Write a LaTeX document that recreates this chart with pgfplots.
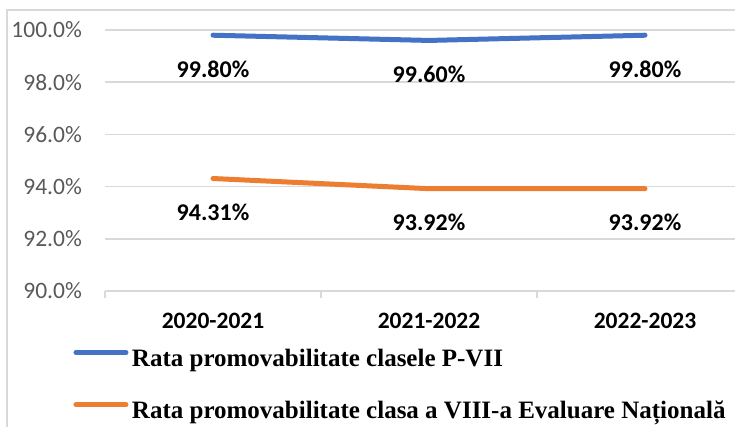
\documentclass[border=0pt]{standalone}
\usepackage{fontspec}
\setmainfont{Carlito}
\newfontfamily\legendfont{Liberation Serif}
\usepackage{pgfplots}
\pgfplotsset{compat=1.18}
\definecolor{gridgray}{HTML}{D9D9D9}
\definecolor{ticktext}{HTML}{595959}
\definecolor{xlblue}{HTML}{4472C4}
\definecolor{xlorange}{HTML}{ED7D31}
\begin{document}
\begin{tikzpicture}[x=1pt,y=1pt]
\useasboundingbox (0,0) rectangle (735,426);
\draw[gridgray, line width=1.3pt] (7,-10) -- (7,416) -- (745,416);
\begin{axis}[
  at={(105pt,135pt)}, anchor=south west,
  scale only axis, width=648pt, height=261pt,
  xmin=-0.5, xmax=2.5, ymin=90, ymax=100,
  clip=false,
  /pgf/number format/assume math mode=true,
  separate axis lines,
  axis x line*=bottom, axis y line*=left,
  x axis line style={draw=gridgray, line width=1.5pt},
  y axis line style={draw=none},
  xtick={0,1,2}, xticklabels={2020-2021,2021-2022,2022-2023},
  minor xtick={-0.5,0.5,1.5,2.5},
  ytick={90,92,94,96,98,100},
  major tick length=0pt, minor tick length=7pt, tick align=outside,
  every major tick/.append style={draw=none},
  every minor tick/.append style={draw=gridgray, line width=1.5pt},
  ymajorgrids, grid style={draw=gridgray, line width=1.5pt},
  yticklabel={\pgfmathprintnumber[fixed,fixed zerofill,precision=1]{\tick}\%},
  yticklabel style={anchor=east, inner sep=0pt, xshift=-23pt, text=ticktext, font=\fontsize{23.5}{28}\selectfont},
  xticklabel style={anchor=base, inner sep=0pt, yshift=-37.5pt, text=black, font=\bfseries\fontsize{23.5}{28}\selectfont},
  nodes near coords={\pgfmathprintnumber[fixed,fixed zerofill,precision=2]{\pgfplotspointmeta}\%},
  every node near coord/.append style={anchor=base, yshift=-42pt, inner sep=0pt, text=black, font=\bfseries\fontsize{24}{28}\selectfont},
  legend image code/.code={\draw[#1, line cap=round] (2.5pt,8.25pt) -- (52.5pt,8.25pt); \path (0pt,8.25pt) (55pt,8.25pt);},
  legend style={at={(-0.05247,-0.2261)}, anchor=north west, draw=none, fill=none, inner sep=0pt, outer sep=0pt,
    font=\legendfont\bfseries\fontsize{25}{29}\selectfont,
    nodes={inner sep=0pt, text height=16pt, text depth=5pt},
    row sep=31pt,
    /tikz/every odd column/.append style={column sep=1pt}},
  legend cell align=left,
]
\addplot[xlblue, line width=5pt, line cap=round, line join=round, mark=none] coordinates {(0,99.80) (1,99.60) (2,99.80)};
\addlegendentry{Rata promovabilitate clasele P-VII}
\addplot[xlorange, line width=5pt, line cap=round, line join=round, mark=none] coordinates {(0,94.31) (1,93.92) (2,93.92)};
\addlegendentry{Rata promovabilitate clasa a VIII-a Evaluare Națională}
\end{axis}
\end{tikzpicture}
\end{document}
